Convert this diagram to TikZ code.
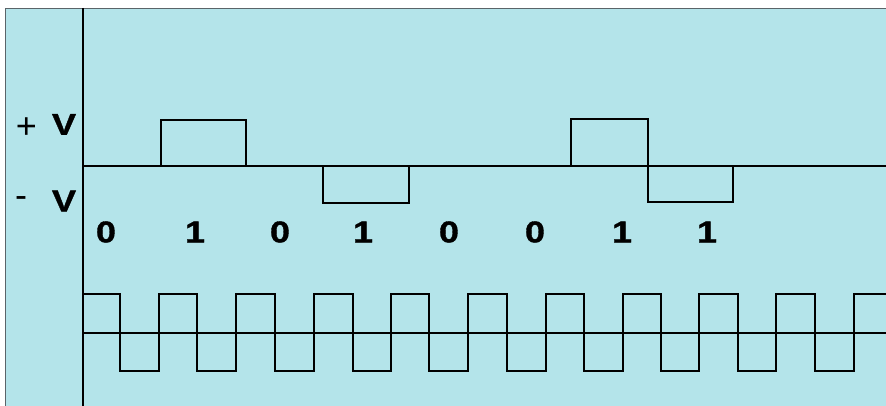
\documentclass[tikz,border=0pt]{standalone}
\usepackage{fontspec}
\setmainfont{Liberation Sans}
\newfontfamily\heavyfont[FakeStretch=1.2,FakeBold=1.2]{Liberation Sans Bold}
\definecolor{panel}{RGB}{180,228,234}
\definecolor{edge}{RGB}{90,100,105}
\begin{document}
\begin{tikzpicture}[x=1pt,y=-1pt,
  wave/.style={line width=1.6pt,line join=miter},
  bit/.style={inner sep=0pt,font=\heavyfont\fontsize{30}{32}\selectfont},
  volt/.style={inner sep=0pt,font=\heavyfont\fontsize{30}{32}\selectfont},
  sign/.style={inner sep=0pt,font=\fontsize{36}{38}\selectfont}]
\useasboundingbox (0,0) rectangle (886,406);
\fill[white] (0,0) rectangle (886,406);
\fill[panel] (5,8) rectangle (886,406);
\draw[edge,line width=0.8pt] (5,406) -- (5,8) -- (886,8);
% axis
\draw[wave] (83,8) -- (83,406);
% upper (bipolar) signal
\draw[wave] (83,166) -- (886,166);
\draw[wave] (161,166) -- (161,120) -- (246,120) -- (246,166);
\draw[wave] (323,166) -- (323,203) -- (409,203) -- (409,166);
\draw[wave] (571,166) -- (571,119) -- (648,119) -- (648,202) -- (733,202) -- (733,166);
% clock
\draw[wave] (83,333) -- (886,333);
\draw[wave] (83,294) -- (120,294) -- (120,371) -- (159,371) -- (159,294)
  -- (197,294) -- (197,371) -- (236,371) -- (236,294)
  -- (275,294) -- (275,371) -- (314,371) -- (314,294)
  -- (353,294) -- (353,371) -- (391,371) -- (391,294)
  -- (429,294) -- (429,371) -- (468,371) -- (468,294)
  -- (507,294) -- (507,371) -- (546,371) -- (546,294)
  -- (584,294) -- (584,371) -- (623,371) -- (623,294)
  -- (661,294) -- (661,371) -- (699,371) -- (699,294)
  -- (738,294) -- (738,371) -- (776,371) -- (776,294)
  -- (815,294) -- (815,371) -- (854,371) -- (854,294) -- (886,294);
% labels
\node[sign] (plus) at (26.5,128) {+};
\node[volt] (vplus) at (64,124.5) {V};
\node[sign] (minus) at (21,202) {-};
\node[volt] (vminus) at (64,201) {V};
\node[bit] (b1) at (106,232) {0};
\node[bit] (b2) at (195,232) {1};
\node[bit] (b3) at (280,232) {0};
\node[bit] (b4) at (363,232) {1};
\node[bit] (b5) at (449,232) {0};
\node[bit] (b6) at (535,232) {0};
\node[bit] (b7) at (622,232) {1};
\node[bit] (b8) at (707,232) {1};
\end{tikzpicture}
\end{document}
